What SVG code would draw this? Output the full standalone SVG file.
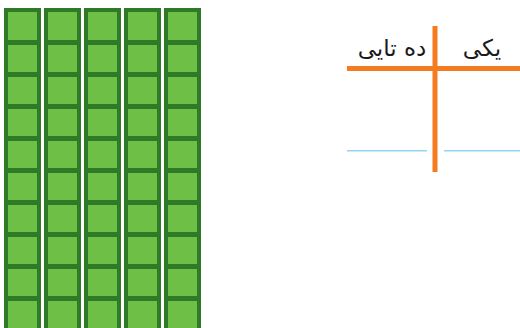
<svg xmlns="http://www.w3.org/2000/svg" xmlns:xlink="http://www.w3.org/1999/xlink" width="520" height="328" viewBox="0 0 520 328">
<style>
.cell{fill:#6dbf45;stroke:#2e7a27;stroke-width:4}
.div{fill:#2e7a27}
.orange{stroke:#f47b20;stroke-width:5;fill:none}
.blue{stroke:#93d6f2;stroke-width:1.6;fill:none}
.lbl{font-family:"DejaVu Sans",sans-serif;font-size:23px;fill:#1a1a1a;text-anchor:middle}
</style>
<defs>
<g id="rod">
<rect class="cell" x="2" y="2" width="33" height="322"/>
<rect class="div" x="0" y="32" width="37" height="5"/>
<rect class="div" x="0" y="64" width="37" height="5"/>
<rect class="div" x="0" y="96" width="37" height="5"/>
<rect class="div" x="0" y="128" width="37" height="5"/>
<rect class="div" x="0" y="160" width="37" height="5"/>
<rect class="div" x="0" y="192" width="37" height="5"/>
<rect class="div" x="0" y="224" width="37" height="5"/>
<rect class="div" x="0" y="256" width="37" height="5"/>
<rect class="div" x="0" y="288" width="37" height="5"/>
</g>
</defs>
<g id="rods">
<use id="rod1" xlink:href="#rod" x="4" y="8"/>
<use id="rod2" xlink:href="#rod" x="44" y="8"/>
<use id="rod3" xlink:href="#rod" x="84" y="8"/>
<use id="rod4" xlink:href="#rod" x="124" y="8"/>
<use id="rod5" xlink:href="#rod" x="164" y="8"/>
</g>
<g id="chart">
<line class="orange" x1="347" y1="68.5" x2="520" y2="68.5"/>
<line class="orange" x1="435" y1="26" x2="435" y2="172"/>
<line class="blue" x1="347" y1="150.7" x2="427" y2="150.7"/>
<line class="blue" x1="444" y1="150.7" x2="520" y2="150.7"/>
</g>
<g id="labels">
<text class="lbl" x="392" y="56" direction="rtl">ده تایی</text>
<text class="lbl" x="482" y="56" direction="rtl">یکی</text>
</g>
</svg>
